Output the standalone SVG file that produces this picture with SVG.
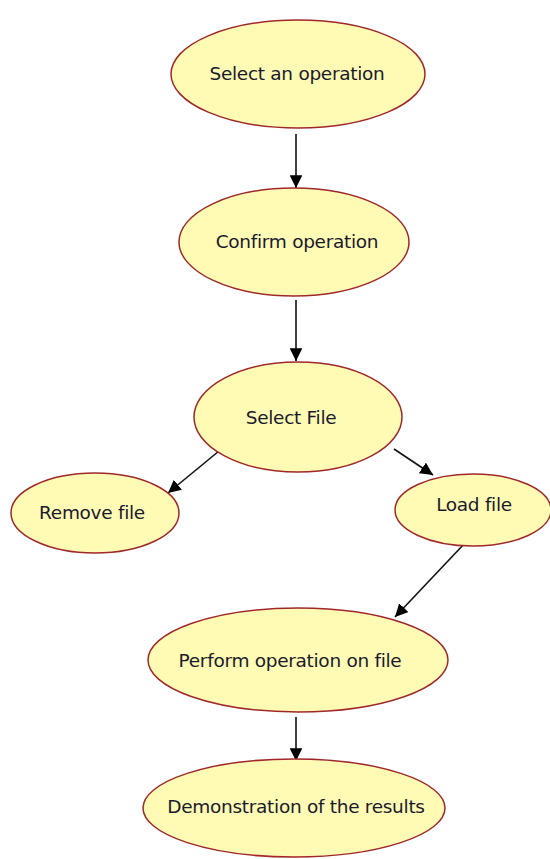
<svg xmlns="http://www.w3.org/2000/svg" width="550" height="859" viewBox="0 0 550 859">
<style>
.n ellipse{fill:#fffbb4;stroke:#a0282a;stroke-width:1.5}
.n text{font-family:"DejaVu Sans",Verdana,sans-serif;font-size:18.5px;fill:#1a1a2e;text-anchor:middle;letter-spacing:-0.3px}
.c line{stroke:#111;stroke-width:1.6;marker-end:url(#a)}
</style>
<defs>
<marker id="a" viewBox="0 0 10 10" refX="10" refY="5" markerWidth="8" markerHeight="8" orient="auto" markerUnits="strokeWidth">
<path d="M0,0 L10,5 L0,10 Z" fill="#000"/>
</marker>
</defs>
<rect width="550" height="859" fill="#fff"/>
<g class="c">
<line x1="296" y1="134" x2="296" y2="188"/>
<line x1="296" y1="300" x2="296" y2="361"/>
<line x1="219" y1="451" x2="168" y2="493"/>
<line x1="394" y1="449" x2="433" y2="475"/>
<line x1="465" y1="543" x2="395" y2="617"/>
<line x1="296" y1="717" x2="296" y2="761"/>
</g>
<g class="n" id="n1"><ellipse cx="298" cy="74" rx="127" ry="54"/><text x="297" y="80">Select an operation</text></g>
<g class="n" id="n2"><ellipse cx="294" cy="242" rx="115" ry="54"/><text x="297" y="248">Confirm operation</text></g>
<g class="n" id="n3"><ellipse cx="298" cy="417" rx="104" ry="55"/><text x="291" y="424">Select File</text></g>
<g class="n" id="n4"><ellipse cx="95" cy="513" rx="84" ry="40"/><text x="92" y="519">Remove file</text></g>
<g class="n" id="n5"><ellipse cx="473" cy="510" rx="78" ry="36"/><text x="474" y="511">Load file</text></g>
<g class="n" id="n6"><ellipse cx="298" cy="660" rx="150" ry="52"/><text x="290" y="667">Perform operation on file</text></g>
<g class="n" id="n7"><ellipse cx="294" cy="808" rx="151" ry="49"/><text x="296" y="813">Demonstration of the results</text></g>
</svg>
